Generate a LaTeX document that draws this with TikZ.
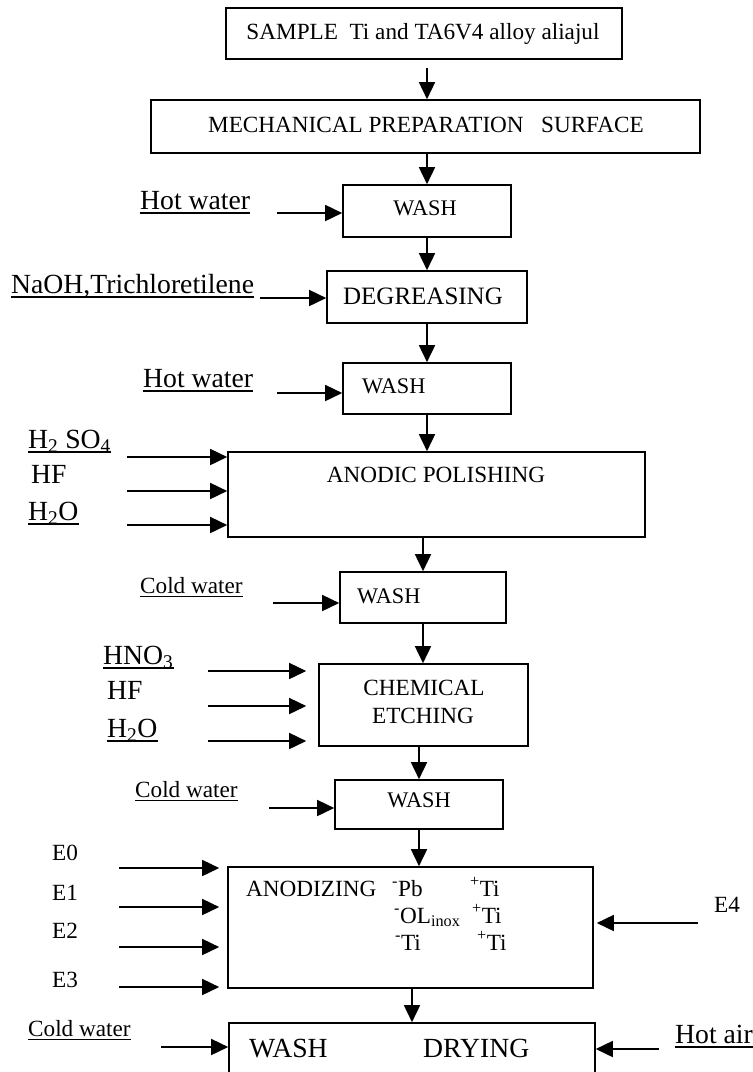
\documentclass[tikz,border=0pt]{standalone}
\usepackage{fontspec}
\setmainfont{Liberation Serif}
\usetikzlibrary{arrows.meta}
\tikzset{
  box/.style={draw, rectangle, line width=1.6pt, inner sep=0pt},
  arr/.style={line width=1.6pt, -{Triangle[length=17pt,width=16pt]}},
  sm/.style={font=\fontsize{23.2}{27}\selectfont, inner sep=0pt, anchor=base west},
  washfont/.style={font=\fontsize{22.3}{26}\selectfont},
  lg/.style={font=\fontsize{27.7}{32}\selectfont, inner sep=0pt, anchor=base west},
  ctr/.style={anchor=base},
  ul/.style={line width=1.4pt},
}
\begin{document}
\begin{tikzpicture}[x=1pt,y=-1pt]
\useasboundingbox (0,0) rectangle (753,1072);
% boxes
\node[box, minimum width=396pt, minimum height=51pt] (sample) at (424,33.5) {};
\node[box, minimum width=549pt, minimum height=53pt] (mech) at (425.5,126.5) {};
\node[box, minimum width=168pt, minimum height=52pt] (wash1) at (427,211) {};
\node[box, minimum width=200pt, minimum height=52pt] (degr) at (427,297) {};
\node[box, minimum width=168pt, minimum height=51pt] (wash2) at (427,388.5) {};
\node[box, minimum width=417pt, minimum height=85pt] (anodic) at (436.5,494.5) {};
\node[box, minimum width=166pt, minimum height=51pt] (wash3) at (423,597.5) {};
\node[box, minimum width=209pt, minimum height=82pt] (chem) at (423.5,705) {};
\node[box, minimum width=168pt, minimum height=49pt] (wash4) at (419,804.5) {};
\node[box, minimum width=365pt, minimum height=121pt] (anodiz) at (410.5,927.5) {};
\node[box, minimum width=366pt, minimum height=51pt] (bottom) at (412,1048.5) {};
% box texts
\node[sm,ctr] (tsample) at (423,39) {SAMPLE\ \ Ti and TA6V4 alloy aliajul};
\node[sm,ctr] (tmech) at (426,132) {MECHANICAL PREPARATION\ \ \ SURFACE};
\node[sm,washfont,ctr] (twash1) at (425,215) {WASH};
\node[sm,ctr,font=\fontsize{25}{29}\selectfont] (tdegr) at (423,304) {DEGREASING};
\node[sm,washfont] (twash2) at (362,393) {WASH};
\node[sm,ctr] (tanodic) at (436,482) {ANODIC POLISHING};
\node[sm,washfont] (twash3) at (357,603) {WASH};
\node[sm,ctr] (tchem1) at (424,695) {CHEMICAL};
\node[sm,ctr] (tchem2) at (423,723) {ETCHING};
\node[sm,washfont,ctr] (twash4) at (419,807) {WASH};
\node[sm] (tanodiz) at (246,896) {ANODIZING};
\node[sm] (tpb) at (392,896) {\textsuperscript{-}Pb};
\node[sm] (tti1) at (470,896) {\textsuperscript{+}Ti};
\node[sm] (tol) at (394,923) {\textsuperscript{-}OL\textsubscript{inox}};
\node[sm] (tti2) at (472,923) {\textsuperscript{+}Ti};
\node[sm] (tti3m) at (395,950) {\textsuperscript{-}Ti};
\node[sm] (tti3p) at (477,950) {\textsuperscript{+}Ti};
\node[lg] (tbwash) at (249,1057) {WASH};
\node[lg] (tdry) at (423,1057) {DRYING};
% input labels
\node[lg] (lhw1) at (140,209) {Hot water};
\node[lg] (lnaoh) at (11,293) {NaOH,Trichloretilene};
\node[lg] (lhw2) at (143,387) {Hot water};
\node[lg] (lh2so4) at (28,448) {H\textsubscript{2} SO\textsubscript{4}};
\node[lg] (lhf1) at (31,483) {HF};
\node[lg] (lh2o1) at (28,520) {H\textsubscript{2}O};
\node[sm] (lcw3) at (140,593) {Cold water};
\node[lg] (lhno3) at (103,664) {HNO\textsubscript{3}};
\node[lg] (lhf2) at (107,699) {HF};
\node[lg] (lh2o2) at (107,737) {H\textsubscript{2}O};
\node[sm] (lcw4) at (135,797) {Cold water};
\node[sm] (le0) at (52,860) {E0};
\node[sm] (le1) at (52,900) {E1};
\node[sm] (le2) at (52,938) {E2};
\node[sm] (le3) at (52,987) {E3};
\node[sm] (le4) at (714,912) {E4};
\node[sm] (lcw5) at (28,1036) {Cold water};
\node[lg] (lhot) at (675,1043) {Hot air};
% underlines
\foreach \n/\d in {lhw1/4,lnaoh/4,lhw2/4,lh2so4/4,lh2o1/4,lcw3/3.5,lhno3/4,lh2o2/4,lcw4/3.5,lcw5/3.5,lhot/4}
  \draw[ul] ([yshift=-\d pt]\n.base west) -- ([yshift=-\d pt]\n.base east);
% main flow arrows
\draw[arr] ([yshift=-8pt]sample.south -| wash1.north) -- (mech.north -| wash1.north);
\draw[arr] (mech.south -| wash1.north) -- (wash1.north);
\draw[arr] (wash1.south) -- (wash1.south |- degr.north);
\draw[arr] (degr.south -| wash2.north) -- (wash2.north);
\draw[arr] (wash2.south) -- (wash2.south |- anodic.north);
\draw[arr] (wash3.north |- anodic.south) -- (wash3.north);
\draw[arr] (wash3.south) -- (wash3.south |- chem.north);
\draw[arr] (wash4.north |- chem.south) -- (wash4.north);
\draw[arr] (wash4.south) -- (wash4.south |- anodiz.north);
\draw[arr] (bottom.north |- anodiz.south) -- (bottom.north);
% side inputs
\coordinate (s1) at (277,213);
\coordinate (s2) at (260,298);
\coordinate (s3) at (277,393);
\coordinate (s4) at (127,457);
\coordinate (s5) at (127,491);
\coordinate (s6) at (127,525);
\coordinate (s7) at (273,603);
\coordinate (s8) at (208,671);
\coordinate (s9) at (208,706);
\coordinate (s10) at (208,741);
\coordinate (s11) at (269,808);
\coordinate (s12) at (119,868);
\coordinate (s13) at (119,907);
\coordinate (s14) at (119,947);
\coordinate (s15) at (119,987);
\coordinate (s16) at (698,923);
\coordinate (s17) at (161,1047);
\coordinate (s18) at (659,1049);
\draw[arr] (s1) -- (s1 -| wash1.west);
\draw[arr] (s2) -- (s2 -| degr.west);
\draw[arr] (s3) -- (s3 -| wash2.west);
\draw[arr] (s4) -- (s4 -| anodic.west);
\draw[arr] (s5) -- (s5 -| anodic.west);
\draw[arr] (s6) -- (s6 -| anodic.west);
\draw[arr] (s7) -- (s7 -| wash3.west);
\draw[arr, shorten >=12pt] (s8) -- (s8 -| chem.west);
\draw[arr, shorten >=12pt] (s9) -- (s9 -| chem.west);
\draw[arr, shorten >=12pt] (s10) -- (s10 -| chem.west);
\draw[arr] (s11) -- (s11 -| wash4.west);
\draw[arr, shorten >=8pt] (s12) -- (s12 -| anodiz.west);
\draw[arr, shorten >=8pt] (s13) -- (s13 -| anodiz.west);
\draw[arr, shorten >=8pt] (s14) -- (s14 -| anodiz.west);
\draw[arr, shorten >=8pt] (s15) -- (s15 -| anodiz.west);
\draw[arr, shorten >=3pt] (s16) -- (s16 -| anodiz.east);
\draw[arr] (s17) -- (s17 -| bottom.west);
\draw[arr] (s18) -- (s18 -| bottom.east);
\end{tikzpicture}
\end{document}
